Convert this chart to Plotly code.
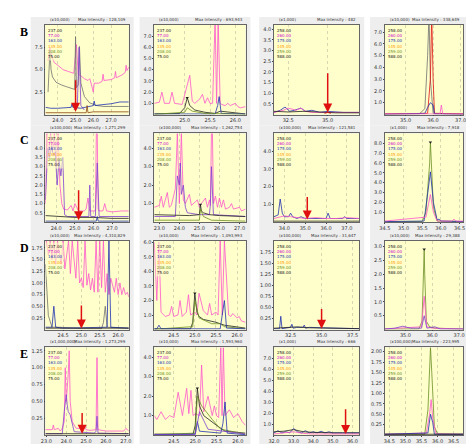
import plotly.graph_objects as go

PK = "#ff55cc"; BL = "#2030b0"; BK = "#202020"; GR = "#707070"; OL = "#6b8e23"
BR = "#8b4513"; RD = "#e01010"; PU = "#8040d0"

ROW_LABELS = ["B", "C", "D", "E"]
LEG12 = ["237.00", "77.00", "163.00", "135.00", "208.00", "75.00"]
LEG34 = ["258.00", "260.00", "175.00", "145.00", "259.00", "588.00"]
LEG_COLORS = [BK, "#cc00cc", BL, "#ff9900", OL, BK]

SCALES = [["(x10,000)", "(x10,000)", "(x1,000)", "(x10,000)"],
          ["(x100,000)", "(x100,000)", "(x100,000)", "(x1,000)"],
          ["(x10,000)", "(x10,000)", "(x100,000)", "(x10,000)"],
          ["(x1,000,000)", "(x10,000)", "(x1,000)", "(x100,000)"]]
MAXINT = [["128,109", "693,943", "482", "338,649"],
          ["1,271,299", "1,262,754", "121,581", "7,918"],
          ["4,310,829", "1,093,993", "31,647", "29,388"],
          ["1,273,299", "1,593,960", "666", "223,995"]]

XRANGES = [[[23.3, 28.0], [24.4, 26.2], [31.6, 37.0], [34.24, 37.1]],
           [[23.42, 27.89], [22.75, 27.3], [33.5, 37.6], [34.5, 36.6]],
           [[24.02, 26.29], [24.04, 26.2], [31.15, 38.05], [34.23, 37.16]],
           [[22.95, 27.15], [24.04, 26.18], [32.0, 36.35], [34.36, 36.8]]]
XTICKS = [[[24, 25, 26, 27], [25.0, 25.5, 26.0], [32.5, 35.0], [35, 36, 37]],
          [[24, 25, 26, 27], [23, 24, 25, 26, 27], [34, 35, 36, 37], [34.5, 35.0, 35.5, 36.0, 36.5]],
          [[24.5, 25.0, 25.5, 26.0], [24.5, 25.0, 25.5, 26.0], [32.5, 35.0, 37.5], [35, 36, 37]],
          [[23, 24, 25, 26, 27], [24.5, 25.0, 25.5, 26.0], [32, 33, 34, 35, 36], [34.5, 35.0, 35.5, 36.0, 36.5]]]
YRANGES = [[[0, 10], [0, 8], [0, 4.2], [0, 7.6]],
           [[0, 4.8], [0, 4.8], [0, 5.0], [0, 9]],
           [[0, 1.9], [0, 6.1], [0, 2.0], [0, 3.2]],
           [[0, 1.3], [0, 4.5], [0, 8], [0, 2.1]]]
YTICKS = [[[2.5, 5.0, 7.5], [1, 2, 3, 4, 5, 6, 7], [0.5, 1, 1.5, 2, 2.5, 3, 3.5, 4], [1, 2, 3, 4, 5, 6, 7]],
          [[0.5, 1, 1.5, 2, 2.5, 3, 3.5, 4], [1, 2, 3, 4], [1, 2, 3, 4], [1, 2, 3, 4, 5, 6, 7, 8]],
          [[0.25, 0.5, 0.75, 1.0, 1.25, 1.5, 1.75], [1, 2, 3, 4, 5, 6], [0.25, 0.5, 0.75, 1.0, 1.25, 1.5, 1.75], [0.5, 1, 1.5, 2, 2.5, 3]],
          [[0.25, 0.5, 0.75, 1.0, 1.25], [1, 2, 3, 4], [1, 2, 3, 4, 5, 6, 7], [0.25, 0.5, 0.75, 1.0, 1.25, 1.5, 1.75, 2.0]]]
# arrows: (x, y_tail, y_head) or None
ARROWS = [[(25.0, 4.0, 0.3), None, (35.0, 2.0, 0.1), None],
          [(25.2, 1.8, 0.1), None, (35.1, 1.5, 0.15), None],
          [(25.0, 0.55, 0.02), None, (35.0, 0.5, 0.02), None],
          [(24.8, 0.35, 0.02), None, (35.65, 2.5, 0.1), None]]

B1 = [(PK, [23.45,23.55,23.65,23.8,24.0,24.3,24.6,24.9,25.05,25.15,25.25,25.35,25.5,25.7,25.8,25.9,26.0,26.05,26.1,26.3,26.5,26.55,26.6,27.0,27.2,27.25,27.3,27.6,27.8,27.85,27.9,28.0],
       [6.0,7.5,6.5,5.8,5.5,5.0,4.8,4.6,7.8,4.5,4.4,4.2,4.0,3.8,4.0,3.3,2.5,3.5,3.5,3.5,3.7,4.5,3.8,3.9,4.1,4.8,4.1,4.4,4.7,5.5,4.9,5.3], False),
      (GR, [23.45,23.55,23.62,23.7,23.9,24.2,24.5,24.8,24.95,25.0,25.05,25.15,25.22,25.3,25.5,25.8,26.2,26.6,27.0,27.5,28.0],
       [2.5,7.0,5.0,4.2,3.6,3.3,3.1,2.9,2.8,8.7,3.0,3.3,7.6,3.5,2.0,1.3,1.0,0.9,0.9,0.9,0.9], False),
      (PU, [24.9,25.1,25.2,25.3,25.5], [0.5,1,7.5,1,0.5], False),
      (BL, [23.3,23.6,24.0,24.5,24.75,24.8,24.85,25.3,25.6,26.0,26.05,26.1,26.5,27.0,27.5,28.0],
       [0.8,0.7,0.7,0.8,0.8,1.2,0.8,0.7,0.8,1.0,1.5,1.0,1.1,1.2,1.4,1.4], False),
      (BR, [23.3,24,25,25.6,25.65,25.7,26,27,28], [0.2,0.2,0.2,0.2,1.0,0.2,0.3,0.3,0.3], False)]
B2 = [(PK, [24.4,24.5,24.55,24.6,24.7,24.75,24.8,24.95,25.1,25.15,25.2,25.3,25.35,25.4,25.45,25.5,25.55,25.6,25.63,25.66,25.7,25.73,25.8,25.85,25.9,26.0,26.05,26.1,26.2],
       [1.0,1.1,2.0,1.0,1.0,2.0,1.0,0.9,3.5,1.2,1.0,1.4,1.8,1.0,1.5,1.0,1.0,8.5,1.0,8.5,1.0,0.9,0.8,1.0,0.8,1.0,0.7,0.6,0.7], False),
      (BK, [24.4,24.9,25.0,25.05,25.1,25.2,25.4,25.6,25.7,26.2], [0.05,0.1,0.6,1.5,0.8,0.4,0.2,0.1,0.3,0.05], True),
      (BL, [24.4,25.6,25.65,25.68,25.72,26.2], [0.05,0.05,0.8,1.6,0.1,0.05], False),
      (OL, [24.4,25.0,25.05,25.15,25.4,26.2], [0.02,0.2,0.6,0.3,0.1,0.02], False)]
B3 = [(BL, [31.6,32.0,32.3,32.6,32.9,33.3,33.6,34.0,34.5,35,36,37], [0.1,0.2,0.35,0.15,0.2,0.3,0.15,0.2,0.1,0.15,0.1,0.1], False),
      (PK, [31.6,32.2,32.5,33.0,33.3,33.6,34,35,37], [0.1,0.2,0.3,0.2,0.3,0.15,0.1,0.1,0.1], False),
      (BK, [31.6,32.5,33.5,34.5,35.5,37], [0.15,0.12,0.15,0.1,0.08,0.08], False),
      (RD, [34.8,35.0,35.2], [0.05,0.1,0.05], False)]
B4 = [(GR, [34.24,35.5,35.7,35.8,35.85,35.9,36.0,37.1], [0.05,0.05,0.5,5,8.5,3,0.1,0.05], False),
      (RD, [34.24,35.8,35.9,35.95,36.0,36.05,37.1], [0.05,0.1,3,8.5,3,0.1,0.05], False),
      (BL, [34.24,35.7,35.8,35.9,36.0,36.05,37.1], [0.02,0.1,0.6,1.0,0.8,0.05,0.02], False),
      (PK, [34.24,36.25,36.3,36.35,37.1], [0.05,0.05,0.8,0.05,0.05], False)]
C1 = [(PK, [23.42,23.5,23.6,23.7,23.8,23.9,24.0,24.1,24.2,24.3,24.4,24.6,24.8,24.9,25.0,25.2,25.5,25.6,25.7,25.8,25.9,26.1,26.15,26.2,26.25,26.3,26.5,26.6,26.7,27,27.5,27.89],
       [1.0,4.8,3.5,4.8,3.8,4.8,3.0,4.8,2.0,1.0,0.7,0.65,0.9,0.6,1.0,0.6,0.6,0.7,1.3,0.6,0.6,0.6,4.8,4.8,0.7,0.6,0.6,1.0,0.6,0.55,0.6,0.6], False),
      (PU, [23.42,23.55,23.65,23.75,23.85,23.95,24.05,24.15,24.25,24.35,24.45,24.6,25,25.5,25.75,25.8,25.85,26.1,26.2,26.3,26.5,27.0,27.89],
       [1.2,4.0,3.5,4.1,3.6,3.8,2.0,3.4,2.5,3.5,0.4,0.3,0.3,0.3,0.3,2.0,0.3,0.3,3.2,0.3,0.3,0.3,0.3], False),
      (BK, [23.42,24,25,26,27,27.89], [0.35,0.3,0.25,0.25,0.2,0.2], False),
      (BL, [23.42,25.5,26.15,26.2,26.25,27.89], [0.05,0.05,0.05,0.3,0.05,0.05], False)]
C2 = [(PK, [22.75,23.0,23.1,23.2,23.4,23.5,23.6,23.8,23.9,24.0,24.1,24.2,24.3,24.5,24.6,24.7,24.9,25.0,25.1,25.3,25.4,25.5,25.55,25.6,25.65,25.7,25.8,25.9,26.0,26.1,26.2,26.3,26.5,26.6,26.7,27.0,27.1,27.3],
       [0.8,0.9,1.4,0.8,1.6,0.8,0.9,1.8,4.8,1.0,4.8,1.2,1.0,1.5,0.9,1.0,1.2,0.8,1.0,1.3,0.8,1.2,0.9,4.8,4.8,1.0,1.4,0.8,1.3,0.8,1.2,0.7,0.8,1.0,0.7,0.8,0.6,0.7], False),
      (PU, [22.75,23.8,23.9,24.0,24.05,24.1,24.2,24.3,24.4,25,25.5,25.55,25.6,25.65,25.7,27.3],
       [0.3,0.3,2.5,2.0,3.2,1.5,2.0,0.8,0.5,0.4,0.4,1.0,3.0,1.0,0.4,0.3], False),
      (BK, [22.75,24.5,25.0,25.05,25.1,25.2,25.5,26,27.3], [0.4,0.35,0.4,0.95,0.6,0.5,0.4,0.35,0.3], True),
      (OL, [22.75,25.0,25.05,25.2,25.6,27.3], [0.1,0.1,0.7,0.3,0.1,0.05], False)]
C3 = [(BL, [33.5,33.7,33.8,33.9,34.0,34.2,34.3,34.4,34.6,34.8,35.0,35.5,36.0,36.1,36.2,36.5,36.8,36.9,37.0,37.6],
       [0.3,0.4,1.3,0.5,0.3,0.3,0.5,0.3,0.2,0.3,0.2,0.2,0.2,0.5,0.2,0.2,0.2,0.3,0.2,0.2], False),
      (PK, [33.5,33.8,34.0,34.3,34.6,35,35.5,36,36.5,37,37.6], [0.2,0.3,0.35,0.3,0.25,0.2,0.25,0.2,0.2,0.25,0.2], False),
      (BK, [33.5,34.5,35.5,36.5,37.6], [0.05,0.05,0.05,0.05,0.05], False)]
C4 = [(OL, [34.5,35.5,35.6,35.7,35.72,35.75,35.8,35.9,36.6], [0.05,0.05,1.0,6.0,8.1,6.0,1.5,0.1,0.05], True),
      (BL, [34.5,35.55,35.65,35.72,35.8,35.9,35.95,36.0,36.6], [0.05,0.1,3,5.1,2.0,0.2,0.3,0.1,0.05], False),
      (PK, [34.5,35.6,35.72,35.8,35.9,36.3,36.35,36.4,36.6], [0.1,0.5,2.8,1.0,0.1,0.1,0.3,0.1,0.1], False)]
D1 = [(PK, [24.02,24.05,24.1,24.15,24.2,24.25,24.3,24.35,24.45,24.5,24.55,24.65,24.7,24.75,24.85,24.9,24.95,25.0,25.05,25.1,25.15,25.2,25.25,25.3,25.35,25.4,25.45,25.5,25.55,25.6,25.65,25.7,25.75,25.8,25.9,25.95,26.0,26.05,26.1,26.15,26.2,26.25,26.29],
       [1.9,1.9,1.6,1.9,1.5,1.9,1.4,1.9,1.4,1.9,1.3,1.9,1.2,1.9,1.1,1.9,1.0,1.1,0.9,1.9,0.95,1.2,0.85,1.1,0.8,1.9,0.8,1.9,0.9,1.9,0.8,1.2,0.75,1.1,0.8,1.1,0.75,1.0,0.75,0.9,0.75,0.8,0.7], False),
      (GR, [24.02,24.05,24.1,24.2,24.4,25,25.55,25.6,25.65,25.7,26.29], [1.4,0.9,0.3,0.05,0.05,0.02,0.02,0.15,0.5,0.05,0.03], False),
      (BL, [24.02,24.2,24.25,24.3,24.5,25.7,25.75,25.8,26.29], [0.05,0.05,0.5,0.05,0.03,0.05,1.9,0.05,0.03], False),
      (BK, [24.02,25.0,26.29], [0.03,0.03,0.03], False)]
D2 = [(PK, [24.04,24.1,24.15,24.2,24.3,24.4,24.45,24.5,24.6,24.65,24.7,24.8,24.85,24.9,25.0,25.05,25.1,25.2,25.3,25.35,25.4,25.5,25.55,25.6,25.65,25.7,25.8,25.85,25.9,26.0,26.05,26.1,26.2],
       [6,2,6,1.2,0.9,1.0,1.6,0.9,1.0,2.0,0.9,1.2,2.4,1.0,1.2,1.0,2.5,1.3,1.0,1.8,1.0,1.2,1.0,6.1,1.0,6.1,1.0,0.9,1.1,0.8,0.9,0.6,0.5], False),
      (BK, [24.04,24.9,24.95,25.0,25.05,25.1,25.2,25.5,25.7,26.2], [0.05,0.05,0.5,2.5,1.2,0.9,0.7,0.5,0.3,0.1], True),
      (OL, [24.04,24.95,25.0,25.1,25.4,25.6,25.7,26.2], [0.02,0.2,2.0,0.8,0.4,0.4,0.2,0.05], False),
      (BL, [24.04,24.1,24.15,24.2,25.6,25.65,25.7,25.75,26.2], [0.05,0.05,0.3,0.05,0.05,1.0,2.0,0.1,0.05], False)]
D3 = [(BL, [31.15,31.6,31.7,31.8,32.5,32.6,32.7,33.0,33.5,33.6,33.7,34,35,36,37,38.05],
       [0.02,0.02,0.3,0.02,0.05,0.12,0.03,0.05,0.05,0.1,0.03,0.05,0.04,0.03,0.03,0.02], False),
      (BK, [31.15,32,33,34,35,36,38.05], [0.03,0.04,0.06,0.04,0.03,0.03,0.02], False)]
D4 = [(OL, [34.23,35.5,35.62,35.68,35.7,35.72,35.78,35.9,36.1,37.16], [0.02,0.02,0.3,2.0,2.9,2.0,0.3,0.1,0.05,0.02], True),
      (PK, [34.23,35.6,35.7,35.8,36.0,37.16], [0.02,0.1,1.2,0.1,0.05,0.02], False),
      (PU, [34.23,34.6,34.9,35.2,35.6,35.7,35.8,36.1,36.3,37.16], [0.02,0.05,0.12,0.05,0.05,0.5,0.05,0.1,0.02,0.02], False)]
E1 = [(PK, [22.95,23.3,23.35,23.4,23.6,23.7,23.8,23.9,23.95,24.0,24.1,24.15,24.2,24.3,24.4,24.5,24.8,24.9,25.0,25.2,25.5,25.55,25.6,25.8,26.0,26.5,26.9,27.0,27.15],
       [0.08,0.08,0.15,0.08,0.1,0.06,0.1,0.2,1.0,0.5,0.9,1.25,0.5,0.2,0.15,0.1,0.1,0.15,0.08,0.07,0.08,1.15,0.08,0.07,0.06,0.06,0.06,0.1,0.06], False),
      (PU, [22.95,23.8,23.9,24.0,24.05,24.1,24.2,24.3,24.4,25.4,25.5,25.55,25.6,27.15],
       [0.02,0.02,0.35,0.6,0.45,0.35,0.3,0.15,0.05,0.03,0.05,0.28,0.03,0.02], False),
      (BK, [22.95,25.0,27.15], [0.02,0.02,0.02], False)]
E2 = [(PK, [24.04,24.1,24.2,24.3,24.4,24.5,24.6,24.7,24.8,24.85,24.9,24.95,25.0,25.1,25.15,25.2,25.3,25.4,25.45,25.5,25.55,25.6,25.63,25.66,25.7,25.8,25.9,26.0,26.1,26.18],
       [1.0,0.8,1.2,0.8,1.0,0.9,2.2,1.0,2.4,1.1,2.3,1.0,1.1,1.0,3.6,1.2,2.0,1.0,1.5,1.0,0.9,4.5,1.0,4.5,1.0,1.3,0.9,1.1,0.7,0.5], False),
      (BK, [24.04,24.95,25.0,25.05,25.1,25.2,25.5,25.7,26.18], [0.05,0.05,0.5,2.4,1.5,1.0,0.5,0.2,0.1], True),
      (OL, [24.04,25.0,25.05,25.15,25.4,25.6,26.18], [0.02,0.1,2.0,1.5,0.8,0.3,0.05], False),
      (BL, [24.04,25.0,25.05,25.1,25.6,25.65,25.7,25.75,26.18], [0.02,0.05,0.7,0.2,0.1,0.6,1.7,0.1,0.02], False),
      (PU, [24.04,25.0,25.05,25.1,25.3,26.18], [0.02,0.02,0.6,1.2,0.3,0.05], False)]
E3 = [(BL, [32.0,32.2,32.4,32.6,32.8,33.0,33.2,33.4,33.6,33.8,34.0,34.2,34.4,34.6,34.8,35.0,35.5,36.35],
       [0.2,0.4,0.2,0.3,0.2,0.6,0.3,0.2,0.4,0.2,0.3,0.2,0.35,0.2,0.3,0.2,0.2,0.2], False),
      (BK, [32,32.5,33,33.5,34,34.5,35,35.5,36.35], [0.3,0.35,0.5,0.3,0.25,0.2,0.2,0.2,0.2], False),
      (PK, [32,33,33.5,34,35,36.35], [0.1,0.3,0.15,0.1,0.1,0.1], False)]
E4 = [(OL, [34.36,35.6,35.7,35.75,35.78,35.82,35.9,36.0,36.8], [0.02,0.02,0.6,1.8,2.1,1.5,0.2,0.03,0.02], False),
      (PK, [34.36,35.65,35.75,35.8,35.85,35.95,36.8], [0.02,0.05,0.5,0.85,0.4,0.03,0.02], False),
      (BL, [34.36,35.7,35.78,35.85,35.9,36.8], [0.02,0.05,0.5,0.3,0.02,0.02], False),
      (BK, [34.36,35.0,36.8], [0.02,0.02,0.02], False)]
PANELS = [[B1, B2, B3, B4], [C1, C2, C3, C4], [D1, D2, D3, D4], [E1, E2, E3, E4]]

W, H = 474, 444
COLS = [(32, 117), (143, 236), (265, 352), (378, 458)]
ROWS = [(15, 105), (124, 213), (232, 321), (339, 427)]
px = lambda v: v / W
py = lambda v: 1 - v / H

fig = go.Figure()
shapes, annots = [], []
for r in range(4):
    annots.append(dict(x=px(4), y=py(ROWS[r][0] - 2), xref="paper", yref="paper", text="<b>%s</b>" % ROW_LABELS[r],
                       showarrow=False, xanchor="left", yanchor="top",
                       font=dict(family="Liberation Serif", size=12, color="black")))
    for c in range(4):
        i = r * 4 + c + 1
        xa, ya = ("x%d" % i if i > 1 else "x"), ("y%d" % i if i > 1 else "y")
        x0, x1 = COLS[c]; y0, y1 = ROWS[r]
        shapes.append(dict(type="rect", xref="paper", yref="paper", x0=px(x0 - 15), x1=px(x1 + 5),
                           y0=py(y1 + 11), y1=py(y0 - 8), fillcolor="#eeeeee", line=dict(width=0), layer="below"))
        sfx = "" if i == 1 else str(i)
        fig.layout["xaxis" + sfx] = dict(domain=[px(x0), px(x1)], anchor=ya, range=XRANGES[r][c],
                                          tickvals=XTICKS[r][c], ticktext=["%.1f" % v for v in XTICKS[r][c]],
                                          tickfont=dict(size=5, color="#333"), ticks="outside", ticklen=1,
                                          showgrid=True, gridcolor="#d8d8b0", griddash="dot", gridwidth=0.5,
                                          showline=True, linecolor="#666", linewidth=0.6, mirror=True, zeroline=False)
        fig.layout["yaxis" + sfx] = dict(domain=[py(y1), py(y0)], anchor=xa, range=YRANGES[r][c],
                                          tickvals=YTICKS[r][c], ticktext=[("%.2f" % v if r in (2, 3) and YTICKS[r][c][0] == 0.25 else "%.1f" % v) for v in YTICKS[r][c]],
                                          tickfont=dict(size=5, color="#333"), ticks="outside", ticklen=1,
                                          showgrid=False, showline=True, linecolor="#666", linewidth=0.6,
                                          mirror=True, zeroline=False)
        shapes.append(dict(type="rect", xref="paper", yref="paper", x0=px(x0), x1=px(x1), y0=py(y1), y1=py(y0),
                           fillcolor="#ffffcc", line=dict(width=0), layer="below"))
        for col, xs, ys, dot in PANELS[r][c]:
            fig.add_trace(go.Scatter(x=xs, y=ys, mode="lines", line=dict(color=col, width=0.8),
                                     xaxis=xa, yaxis=ya, showlegend=False, cliponaxis=True))
            if dot:
                k = ys.index(max(ys))
                fig.add_trace(go.Scatter(x=[xs[k]], y=[ys[k]], mode="markers", marker=dict(color=BK, size=3, symbol="triangle-down"),
                                         xaxis=xa, yaxis=ya, showlegend=False))
        if ARROWS[r][c]:
            ax_, yt, yh = ARROWS[r][c]
            annots.append(dict(x=ax_, y=yh, ax=ax_, ay=yt, xref=xa, yref=ya, axref=xa, ayref=ya, text="",
                               showarrow=True, arrowhead=2, arrowsize=1.2, arrowwidth=1.5, arrowcolor=RD))
        annots.append(dict(x=px(x0 + 3), y=py(y0 - 1), xref="paper", yref="paper", text=SCALES[r][c],
                           showarrow=False, xanchor="left", yanchor="bottom", font=dict(size=4, color="#333")))
        annots.append(dict(x=px(x1 - 1), y=py(y0 - 1), xref="paper", yref="paper", text="Max Intensity : " + MAXINT[r][c],
                           showarrow=False, xanchor="right", yanchor="bottom", font=dict(size=4, color="#333")))
        labs = LEG12 if c < 2 else LEG34
        annots.append(dict(x=px(x0 + 1), y=py(y0 + 1), xref="paper", yref="paper",
                           text="<br>".join('<span style="color:%s">%s</span>' % (LEG_COLORS[k], labs[k]) for k in range(6)),
                           showarrow=False, xanchor="left", yanchor="top", align="left",
                           font=dict(size=4, family="DejaVu Sans"), bgcolor="rgba(255,255,204,0.6)"))

fig.update_layout(width=W, height=H, margin=dict(l=0, r=0, t=0, b=0), paper_bgcolor="white",
                  plot_bgcolor="rgba(0,0,0,0)", shapes=shapes, annotations=annots,
                  font=dict(family="DejaVu Sans"))
fig.write_html("out.html")
